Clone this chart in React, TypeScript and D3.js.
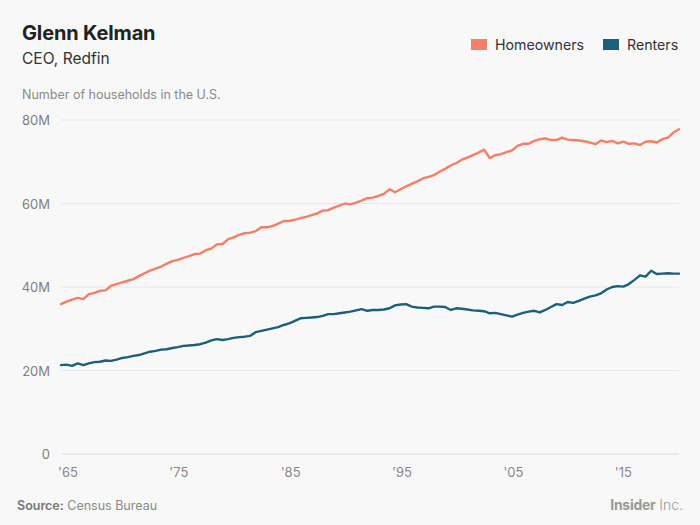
import React from "react";
import * as d3 from "d3";

const startYear = 1965;
const step = 0.5;

const homeowners = [
  35.9, 36.5, 37.0, 37.4, 37.1, 38.3, 38.6, 39.1, 39.2, 40.3,
  40.7, 41.1, 41.5, 41.9, 42.6, 43.3, 43.9, 44.4, 44.9, 45.6,
  46.2, 46.5, 47.0, 47.4, 47.9, 48.0, 48.8, 49.2, 50.2, 50.3,
  51.4, 51.9, 52.5, 52.9, 53.0, 53.4, 54.3, 54.3, 54.6, 55.2,
  55.8, 55.8, 56.1, 56.5, 56.8, 57.2, 57.6, 58.3, 58.4, 59.0,
  59.5, 60.0, 59.8, 60.2, 60.7, 61.3, 61.4, 61.8, 62.3, 63.4,
  62.7, 63.4, 64.1, 64.7, 65.3, 66.0, 66.4, 66.8, 67.6, 68.3,
  69.1, 69.7, 70.5, 71.0, 71.6, 72.2, 72.9, 70.9, 71.6, 71.8,
  72.3, 72.7, 73.8, 74.3, 74.3, 75.0, 75.4, 75.6, 75.2, 75.2,
  75.8, 75.3, 75.2, 75.1, 74.9, 74.6, 74.2, 75.1, 74.7, 75.0,
  74.4, 74.8, 74.3, 74.4, 74.0, 74.8, 74.9, 74.6, 75.4, 75.8,
  77.0, 77.8,
];

const renters = [
  21.3, 21.4, 21.1, 21.7, 21.3, 21.7, 22.0, 22.1, 22.4, 22.3,
  22.6, 23.0, 23.2, 23.5, 23.7, 24.1, 24.5, 24.7, 25.0, 25.1,
  25.4, 25.6, 25.9, 26.0, 26.1, 26.3, 26.7, 27.2, 27.5, 27.3,
  27.5, 27.8, 28.0, 28.1, 28.3, 29.2, 29.5, 29.8, 30.1, 30.4,
  30.9, 31.3, 31.9, 32.5, 32.6, 32.7, 32.8, 33.1, 33.5, 33.5,
  33.7, 33.9, 34.1, 34.4, 34.7, 34.3, 34.5, 34.5, 34.6, 34.9,
  35.6, 35.8, 35.9, 35.3, 35.1, 35.0, 34.9, 35.3, 35.3, 35.2,
  34.5, 34.9, 34.8, 34.6, 34.4, 34.3, 34.2, 33.7, 33.8, 33.5,
  33.2, 32.9, 33.4, 33.8, 34.1, 34.3, 33.9, 34.5, 35.2, 35.9,
  35.7, 36.4, 36.2, 36.7, 37.2, 37.7, 38.0, 38.5, 39.4, 40.0,
  40.2, 40.1, 40.7, 41.7, 42.8, 42.5, 43.9, 43.1, 43.2, 43.3,
  43.2, 43.2,
];

const yTicks = [0, 20, 40, 60, 80];
const yTickLabels = ["0", "20M", "40M", "60M", "80M"];
const xTicks = [1965, 1975, 1985, 1995, 2005, 2015];
const xTickLabels = ["'65", "'75", "'85", "'95", "'05", "'15"];

const seriesNames = ["Homeowners", "Renters"];
const seriesColors = ["#f47f65", "#1b5f7d"];

const W = 700;
const H = 525;
const FONT = "Inter, 'Open Sans', sans-serif";

export default function App() {
  const x = d3.scaleLinear().domain([1965, 2020.5]).range([61, 679]);
  const y = d3.scaleLinear().domain([0, 80]).range([454, 120]);
  const line = d3
    .line<number>()
    .x((_, i) => x(startYear + i * step))
    .y((d) => y(d));

  const series = [homeowners, renters];

  return (
    <svg
      width={W}
      height={H}
      style={{ position: "absolute", left: 0, top: 0, background: "#f8f8f8" }}
      fontFamily={FONT}
    >
      <rect x={0} y={0} width={W} height={H} fill="#f8f8f8" />
      <text x={22} y={40} fontSize={20} fontWeight={700} fill="#222" letterSpacing={-0.15}>
        Glenn Kelman
      </text>
      <text x={22} y={64} fontSize={15.5} fill="#333">
        CEO, Redfin
      </text>
      <text x={22} y={99} fontSize={12.5} fill="#8a8a8a">
        Number of households in the U.S.
      </text>

      {/* legend */}
      {seriesNames.map((n, i) => {
        const lx = i === 0 ? 471 : 603;
        return (
          <g key={n}>
            <rect x={lx} y={39} width={16} height={11} fill={seriesColors[i]} />
            <text x={lx + 24} y={50} fontSize={14.2} fill="#333">
              {n}
            </text>
          </g>
        );
      })}

      {/* grid */}
      {yTicks.map((t, i) => (
        <g key={t}>
          <line
            x1={61}
            x2={679}
            y1={y(t)}
            y2={y(t)}
            stroke={t === 0 ? "#dcdcdc" : "#e6e6e6"}
            strokeWidth={1}
          />
          <text
            x={50}
            y={y(t) + 5}
            textAnchor="end"
            fontSize={13}
            fill="#808080"
          >
            {yTickLabels[i]}
          </text>
        </g>
      ))}

      {xTicks.map((t, i) => (
        <text
          key={t}
          x={x(t) - 3}
          y={477}
          fontSize={13}
          fill="#888"
        >
          {xTickLabels[i]}
        </text>
      ))}

      {series.map((s, i) => (
        <path
          key={i}
          d={line(s) || ""}
          fill="none"
          stroke={seriesColors[i]}
          strokeWidth={2.4}
          strokeLinejoin="round"
          strokeLinecap="round"
        />
      ))}

      <text x={17} y={510} fontSize={12.5} fill="#8a8a8a">
        <tspan fontWeight={600} fill="#777">Source:</tspan>
        <tspan> Census Bureau</tspan>
      </text>
      <text x={683} y={510} textAnchor="end" fontSize={14} fill="#9a9a9a">
        <tspan fontWeight={700} letterSpacing={-0.3}>Insider</tspan>
        <tspan fontWeight={300}> Inc.</tspan>
      </text>
    </svg>
  );
}
